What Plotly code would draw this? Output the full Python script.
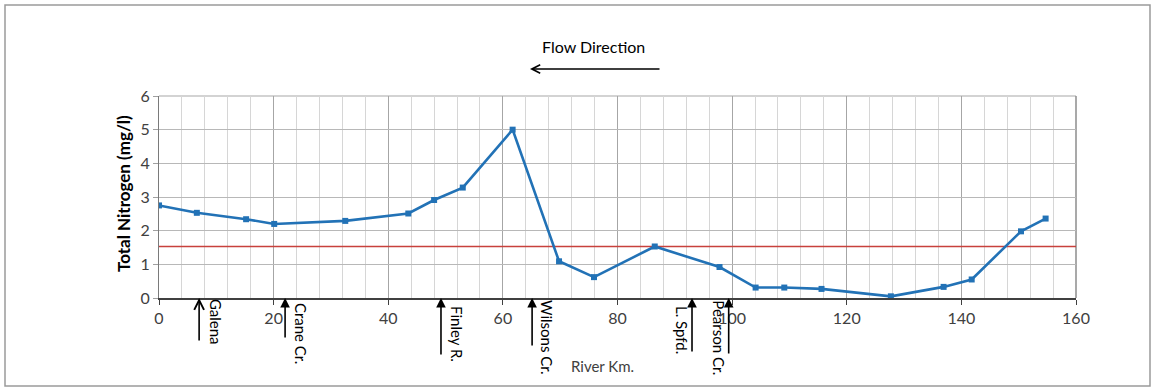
import plotly.graph_objects as go

# Total nitrogen along the river
river_km = [0, 6.6, 15.2, 20.1, 32.5, 43.5, 48.0, 53.0, 61.7, 69.8, 75.9,
            86.5, 97.8, 104.1, 109.1, 115.6, 127.7, 136.9, 141.8, 150.4, 154.7]
total_n = [2.75, 2.53, 2.34, 2.20, 2.29, 2.51, 2.91, 3.28, 5.00, 1.09, 0.62,
           1.53, 0.92, 0.31, 0.31, 0.27, 0.05, 0.33, 0.55, 1.98, 2.36]

# Nitrogen criterion drawn across the whole reach
criterion_km = [0, 160]
criterion_n = [1.53, 1.53]

# Tributary / inflow locations
trib_names = ["Galena", "Crane Cr.", "Finley R.", "Wilsons Cr.", "L. Spfd.", "Pearson Cr."]
trib_km = [7.0, 22.0, 49.2, 65.1, 93.0, 99.4]

x_ticks = [0, 20, 40, 60, 80, 100, 120, 140, 160]
y_ticks = [0, 1, 2, 3, 4, 5, 6]

W, H = 1152, 388
ML, MR, MT, MB = 159, 76, 96, 90
PW, PH = W - ML - MR, H - MT - MB


def px_x(p):
    return (p - ML) / PW


def px_y(p):
    return (H - MB - p) / PH


FONT = "Lato, 'Open Sans', sans-serif"

fig = go.Figure()

fig.add_trace(go.Scatter(
    x=criterion_km, y=criterion_n, mode="lines",
    line=dict(color="#C8413C", width=1.6), hoverinfo="skip", showlegend=False))

fig.add_trace(go.Scatter(
    x=river_km, y=total_n, mode="lines+markers",
    line=dict(color="#2272B6", width=2.6),
    marker=dict(symbol="square", size=6, color="#2272B6"),
    showlegend=False))

# Label layout for each tributary: arrow tail (px below axis), label x shift, label centre y (px)
trib_style = {
    "Galena": dict(tail=44, shift=17, cy=322, head=5),
    "Crane Cr.": dict(tail=41, shift=16, cy=333, head=2),
    "Finley R.": dict(tail=58, shift=16, cy=334, head=2),
    "Wilsons Cr.": dict(tail=49, shift=15, cy=337, head=2),
    "L. Spfd.": dict(tail=55, shift=-10, cy=330, head=2),
    "Pearson Cr.": dict(tail=57, shift=-10, cy=338, head=2),
}

annotations = []
for name, km in zip(trib_names, trib_km):
    st = trib_style[name]
    annotations.append(dict(
        x=km, y=0, xref="x", yref="y", text="", showarrow=True,
        ax=0, ay=st["tail"], axref="pixel", ayref="pixel",
        arrowhead=st["head"], arrowsize=1.2, arrowwidth=1.6,
        arrowcolor="#000000", standoff=0))
    annotations.append(dict(
        x=km, y=px_y(st["cy"]), xref="x", yref="paper", text=name,
        showarrow=False, textangle=90, xshift=st["shift"],
        xanchor="center", yanchor="middle",
        font=dict(family=FONT, size=15, color="#000000")))

# Flow direction note and arrow
annotations.append(dict(
    x=px_x(593), y=px_y(46), xref="paper", yref="paper", text="Flow Direction",
    showarrow=False, xanchor="center", yanchor="middle",
    font=dict(family=FONT, size=16, color="#000000")))
annotations.append(dict(
    x=px_x(530), y=px_y(69), xref="paper", yref="paper", text="",
    showarrow=True, ax=131, ay=0, arrowhead=5, arrowsize=1.1, arrowwidth=1.5,
    arrowcolor="#000000", standoff=0))

# Axis titles
annotations.append(dict(
    x=px_x(602), y=px_y(366), xref="paper", yref="paper", text="River Km.",
    showarrow=False, xanchor="center", yanchor="middle",
    font=dict(family=FONT, size=15, color="#404040")))
annotations.append(dict(
    x=px_x(123), y=px_y(194), xref="paper", yref="paper",
    text="<b>Total Nitrogen (mg/l)</b>", textangle=-90,
    showarrow=False, xanchor="center", yanchor="middle",
    font=dict(family=FONT, size=17, color="#000000")))

shapes = [
    # outer frame
    dict(type="rect", xref="paper", yref="paper",
         x0=px_x(5), x1=px_x(1150), y0=px_y(386), y1=px_y(5),
         line=dict(color="#9a9a9a", width=1.5), layer="below"),
    # plot area border (top and right)
    dict(type="line", xref="paper", yref="paper", x0=0, x1=1, y0=1, y1=1,
         line=dict(color="#a8a8a8", width=1.2), layer="below"),
    dict(type="line", xref="paper", yref="paper", x0=1, x1=1, y0=0, y1=1,
         line=dict(color="#8c8c8c", width=1.5), layer="below"),
]

fig.update_layout(
    width=W, height=H,
    margin=dict(l=ML, r=MR, t=MT, b=MB, pad=0),
    paper_bgcolor="#ffffff", plot_bgcolor="#ffffff",
    font=dict(family=FONT, size=16, color="#404040"),
    annotations=annotations, shapes=shapes, showlegend=False,
)

fig.update_xaxes(
    range=[0, 160], tickvals=x_ticks, ticktext=[str(v) for v in x_ticks],
    showgrid=True, gridcolor="#a6a6a6", gridwidth=1,
    minor=dict(dtick=4, tick0=0, showgrid=True, gridcolor="#d6d6d6", gridwidth=1, ticks=""),
    showline=True, linecolor="#404040", linewidth=1.5,
    ticks="outside", ticklen=5, tickcolor="#404040", tickwidth=1.2,
    tickfont=dict(family=FONT, size=16, color="#404040"),
    zeroline=False, fixedrange=True)

fig.update_yaxes(
    range=[0, 6], tickvals=y_ticks, ticktext=[str(v) for v in y_ticks],
    showgrid=True, gridcolor="#b8b8b8", gridwidth=1.2,
    showline=True, linecolor="#7a7a7a", linewidth=1.2,
    ticks="outside", ticklen=5, tickcolor="#a0a0a0", tickwidth=1.2,
    tickfont=dict(family=FONT, size=16, color="#404040"),
    zeroline=False, fixedrange=True)

fig.write_html("out.html")
